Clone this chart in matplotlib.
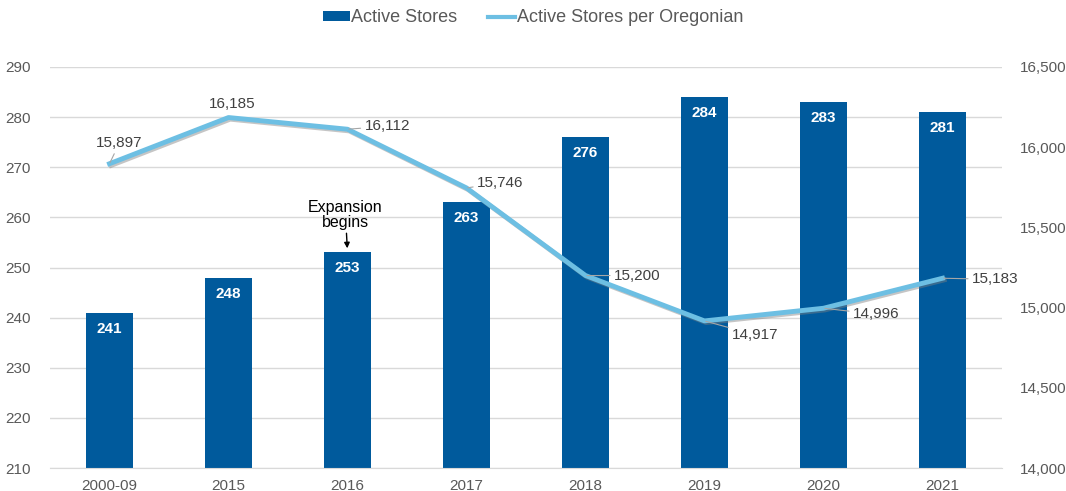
import matplotlib.pyplot as plt
import matplotlib.patheffects as pe
from matplotlib.patches import Patch
from matplotlib.lines import Line2D

plt.rcParams['font.family'] = ['Liberation Sans', 'DejaVu Sans']

years = ["2000-09", "2015", "2016", "2017", "2018", "2019", "2020", "2021"]
active_stores = [241, 248, 253, 263, 276, 284, 283, 281]
per_oregonian = [15897, 16185, 16112, 15746, 15200, 14917, 14996, 15183]
# label offsets (pixels) for the line labels
label_offsets = [(10, 21), (4, 14), (40, 3), (34, 5), (52, 0), (51, -14), (53, -6), (53, -1)]
leaders = [True, False, True, True, True, True, True, True]

bar_color = "#005A9C"
line_color = "#6DBFE3"
grid_color = "#D9D9D9"
text_gray = "#595959"

fig = plt.figure(figsize=(10.66, 4.91), dpi=100)
ax = fig.add_axes([50 / 1066, 1 - 468 / 491, (1002 - 50) / 1066, (468 - 67) / 491])
ax2 = ax.twinx()

x = list(range(len(years)))
ax.bar(x, active_stores, width=0.39, color=bar_color, zorder=2)
for xi, v in zip(x, active_stores):
    ax.annotate(str(v), (xi, v), xytext=(0, -9), textcoords="offset pixels",
                ha="center", va="top", color="white", fontsize=11, fontweight="bold", zorder=3)

ax.set_ylim(210, 290)
ax.set_yticks(range(210, 291, 10))
ax.set_xlim(-0.5, 7.5)
ax.set_xticks(x)
ax.set_xticklabels(years)
ax.yaxis.grid(True, color=grid_color, lw=1)
ax.set_axisbelow(True)
for s in ["top", "left", "right"]:
    ax.spines[s].set_visible(False)
    ax2.spines[s].set_visible(False)
ax2.spines["bottom"].set_visible(False)
ax.spines["bottom"].set_color(grid_color)
ax.tick_params(axis="both", length=0, labelcolor=text_gray, labelsize=11)
ax.tick_params(axis="y", pad=14)
ax.tick_params(axis="x", pad=8)

ax2.plot(x, per_oregonian, color=line_color, lw=3.5, solid_joinstyle="round",
         path_effects=[pe.SimpleLineShadow(offset=(1.2, -1.2), shadow_color="gray", alpha=0.45),
                       pe.Normal()], zorder=3)
ax2.set_ylim(14000, 16500)
ax2.set_yticks(range(14000, 16501, 500))
ax2.set_yticklabels([f"{v:,}" for v in range(14000, 16501, 500)])
ax2.tick_params(axis="y", length=0, labelcolor=text_gray, labelsize=11, pad=13)

for xi, v, off, ld in zip(x, per_oregonian, label_offsets, leaders):
    kw = {}
    if ld:
        kw["arrowprops"] = dict(arrowstyle="-", color="#A6A6A6", lw=0.8, shrinkA=1, shrinkB=1)
    ax2.annotate(f"{v:,}", (xi, v), xytext=off, textcoords="offset pixels",
                 ha="center", va="center", color="#404040", fontsize=11, **kw)

ax.annotate("Expansion\nbegins", (2, 253), xytext=(-2, 22), textcoords="offset pixels",
            ha="center", va="bottom", fontsize=11.5, color="black", linespacing=1.05,
            arrowprops=dict(arrowstyle="-|>", color="black", lw=1, mutation_scale=8,
                            shrinkA=0, shrinkB=3))

handles = [Patch(facecolor=bar_color, label="Active Stores"),
           Line2D([0], [0], color=line_color, lw=3, label="Active Stores per Oregonian")]
fig.legend(handles=handles, loc="center", bbox_to_anchor=(0.5, 1 - 18 / 491), ncol=2,
           frameon=False, fontsize=13, labelcolor=text_gray, handlelength=1.5,
           handleheight=0.4, handletextpad=0.1, columnspacing=1.7)

fig.savefig("out.png", dpi=100)
